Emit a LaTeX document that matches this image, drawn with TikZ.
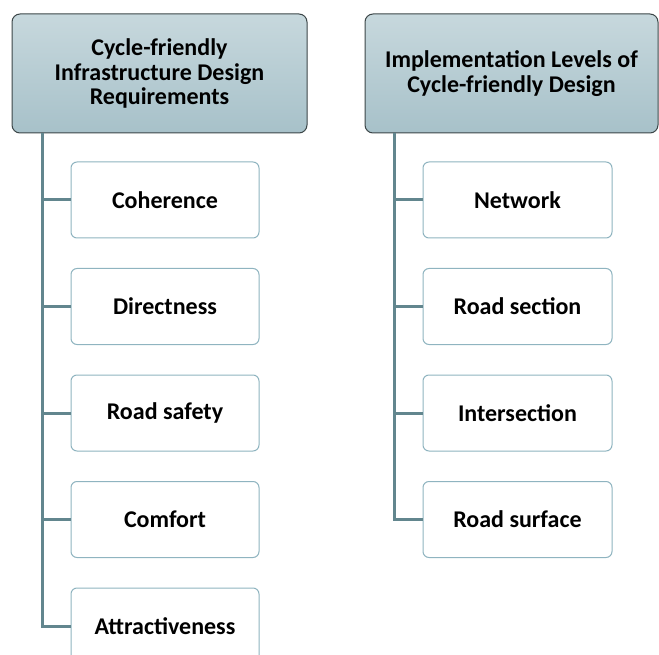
\documentclass[tikz,border=0pt]{standalone}
\usepackage{fontspec}
\setmainfont{Carlito}
\definecolor{hdrtop}{HTML}{C7D8DD}
\definecolor{hdrbot}{HTML}{A7C1C9}
\definecolor{hdrline}{HTML}{3C4648}
\definecolor{trunk}{HTML}{62868E}
\definecolor{childline}{HTML}{8FB4C0}
\tikzset{
  header/.style={draw=hdrline, line width=1pt, rounded corners=8pt,
    top color=hdrtop, bottom color=hdrbot, minimum height=119pt,
    align=center, inner sep=0pt, font=\bfseries\fontsize{24}{24.7}\selectfont},
  child/.style={draw=childline, line width=1pt, rounded corners=6pt,
    fill=white, minimum width=188pt, minimum height=76pt, inner sep=0pt,
    font=\bfseries\fontsize{24}{26}\selectfont},
  conn/.style={draw=trunk, line width=3pt}
}
\begin{document}
\begin{tikzpicture}[x=1pt,y=-1pt]
\useasboundingbox (0,0) rectangle (659,655);
\clip (0,0) rectangle (659,655);
% left column
\node[header, minimum width=295pt] (hL) at (159.5,73.5)
  {Cycle-friendly\\Infrastructure Design\\Requirements};
\node[child] (l1) at (165,200) {Coherence};
\node[child] (l2) at (165,306.5) {Directness};
\node[child] (l3) at (165,413) {Road safety};
\node[child] (l4) at (165,519.5) {Comfort};
\node[child] (l5) at (165,626) {Attractiveness};
\coordinate (tL) at (42,133);
\foreach \c in {l1,l2,l3,l4,l5} \draw[conn] (tL) |- (\c.west);
% right column
\node[header, minimum width=293pt] (hR) at (511.5,73.5)
  {Implementation Levels of\\Cycle-friendly Design};
\node[child, minimum width=189pt] (r1) at (517.5,200) {Network};
\node[child, minimum width=189pt] (r2) at (517.5,306.5) {Road section};
\node[child, minimum width=189pt] (r3) at (517.5,413) {Intersection};
\node[child, minimum width=189pt] (r4) at (517.5,519.5) {Road surface};
\coordinate (tR) at (394,133);
\foreach \c in {r1,r2,r3,r4} \draw[conn] (tR) |- (\c.west);
\end{tikzpicture}
\end{document}
